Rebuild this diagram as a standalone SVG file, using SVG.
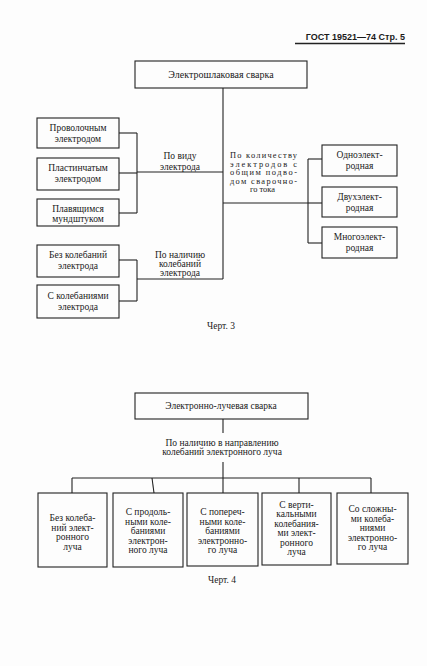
<svg xmlns="http://www.w3.org/2000/svg" width="427" height="666" viewBox="0 0 427 666">
<style>
.bg{fill:#fdfdfd}
.box{fill:none;stroke:#222;stroke-width:1.1}
.ln{fill:none;stroke:#222;stroke-width:1.1}
.t{font-family:"Liberation Serif","Times New Roman",serif;font-size:9.5px;fill:#1a1a1a;text-anchor:middle}
.tl{font-family:"Liberation Serif","Times New Roman",serif;font-size:8.4px;fill:#1a1a1a}
.h{font-family:"Liberation Sans",Arial,sans-serif;font-size:9px;font-weight:bold;fill:#1a1a1a;text-anchor:end}
</style>
<rect class="bg" x="0" y="0" width="427" height="666"/>
<g id="header">
<text class="h" x="405" y="40">ГОСТ 19521—74 Стр. 5</text>
<line x1="295" y1="43.5" x2="405" y2="43.5" stroke="#222" stroke-width="1.3"/>
</g>
<g id="connectors">
<line class="ln" x1="223" y1="88" x2="223" y2="279"/>
<line class="ln" x1="137" y1="172" x2="223" y2="172"/>
<line class="ln" x1="137" y1="133" x2="137" y2="213"/>
<line class="ln" x1="119" y1="133" x2="137" y2="133"/>
<line class="ln" x1="119" y1="173" x2="137" y2="173"/>
<line class="ln" x1="119" y1="213" x2="137" y2="213"/>
<line class="ln" x1="223" y1="203" x2="308" y2="203"/>
<line class="ln" x1="308" y1="159" x2="308" y2="243"/>
<line class="ln" x1="308" y1="159" x2="322" y2="159"/>
<line class="ln" x1="308" y1="203" x2="322" y2="203"/>
<line class="ln" x1="308" y1="243" x2="322" y2="243"/>
<line class="ln" x1="137" y1="279" x2="223" y2="279"/>
<line class="ln" x1="137" y1="260" x2="137" y2="301"/>
<line class="ln" x1="119" y1="260" x2="137" y2="260"/>
<line class="ln" x1="119" y1="301" x2="137" y2="301"/>
<line class="ln" x1="223" y1="419" x2="223" y2="433"/>
<line class="ln" x1="223" y1="462" x2="223" y2="478"/>
<line class="ln" x1="72" y1="478" x2="371" y2="478"/>
<line class="ln" x1="72" y1="478" x2="72" y2="493"/>
<line class="ln" x1="152" y1="478" x2="154" y2="493"/>
<line class="ln" x1="223" y1="478" x2="223" y2="493"/>
<line class="ln" x1="299" y1="478" x2="299" y2="493"/>
<line class="ln" x1="371" y1="478" x2="371" y2="493"/>
</g>
<g id="n_esv">
<rect class="box" x="135" y="61" width="172" height="27"/>
<text class="t" x="221" y="77.5" style="font-size:10px">Электрошлаковая сварка</text>
</g>
<g id="n_wire">
<rect class="box" x="37" y="118" width="82" height="30"/>
<text class="t" x="78" y="131">Проволочным</text>
<text class="t" x="78" y="142">электродом</text>
</g>
<g id="n_plate">
<rect class="box" x="37" y="158" width="82" height="32"/>
<text class="t" x="78" y="171">Пластинчатым</text>
<text class="t" x="78" y="182">электродом</text>
</g>
<g id="n_nozzle">
<rect class="box" x="37" y="199" width="82" height="27"/>
<text class="t" x="78" y="211.5">Плавящимся</text>
<text class="t" x="78" y="222">мундштуком</text>
</g>
<g id="l_kind">
<text class="t" x="180" y="159">По виду</text>
<text class="t" x="180" y="170">электрода</text>
</g>
<g id="l_count">
<text class="tl" x="230" y="158" textLength="67" lengthAdjust="spacing">По количеству</text>
<text class="tl" x="230" y="166.5" textLength="67" lengthAdjust="spacing">электродов с</text>
<text class="tl" x="230" y="175" textLength="67" lengthAdjust="spacing">общим подво-</text>
<text class="tl" x="230" y="183.5" textLength="67" lengthAdjust="spacing">дом сварочно-</text>
<text class="tl" x="262.5" y="192" style="text-anchor:middle">го тока</text>
</g>
<g id="n_one">
<rect class="box" x="322" y="145" width="75" height="31"/>
<text class="t" x="359.5" y="158">Одноэлект-</text>
<text class="t" x="359.5" y="168.5">родная</text>
</g>
<g id="n_two">
<rect class="box" x="322" y="187" width="75" height="30"/>
<text class="t" x="359.5" y="200">Двухэлект-</text>
<text class="t" x="359.5" y="210.5">родная</text>
</g>
<g id="n_multi">
<rect class="box" x="322" y="227" width="75" height="31"/>
<text class="t" x="359.5" y="240">Многоэлект-</text>
<text class="t" x="359.5" y="250.5">родная</text>
</g>
<g id="l_osc">
<text class="t" x="180" y="258">По наличию</text>
<text class="t" x="180" y="267">колебаний</text>
<text class="t" x="180" y="276">электрода</text>
</g>
<g id="n_noosc">
<rect class="box" x="37" y="245" width="82" height="32"/>
<text class="t" x="78" y="258">Без колебаний</text>
<text class="t" x="78" y="269">электрода</text>
</g>
<g id="n_osc">
<rect class="box" x="37" y="285" width="82" height="33"/>
<text class="t" x="78" y="299">С колебаниями</text>
<text class="t" x="78" y="309.5">электрода</text>
</g>
<g id="cap3">
<text class="t" x="221" y="329">Черт. 3</text>
</g>
<g id="n_ebw">
<rect class="box" x="135" y="393" width="173" height="26"/>
<text class="t" x="221" y="408.5">Электронно-лучевая сварка</text>
</g>
<g id="l_beam">
<text class="t" x="222" y="445.5">По наличию в направлению</text>
<text class="t" x="222" y="455">колебаний электронного луча</text>
</g>
<g id="n_b1">
<rect class="box" x="38" y="493" width="69" height="74"/>
<text class="t" x="72.5" y="521">Без колеба-</text>
<text class="t" x="72.5" y="530.5">ний элект-</text>
<text class="t" x="72.5" y="540">ронного</text>
<text class="t" x="72.5" y="549.5">луча</text>
</g>
<g id="n_b2">
<rect class="box" x="113" y="493" width="70" height="74"/>
<text class="t" x="148" y="515">С продоль-</text>
<text class="t" x="148" y="524.5">ными коле-</text>
<text class="t" x="148" y="534">баниями</text>
<text class="t" x="148" y="543.5">электрон-</text>
<text class="t" x="148" y="553">ного луча</text>
</g>
<g id="n_b3">
<rect class="box" x="187" y="493" width="71" height="73"/>
<text class="t" x="222.5" y="515">С попереч-</text>
<text class="t" x="222.5" y="524.5">ными коле-</text>
<text class="t" x="222.5" y="534">баниями</text>
<text class="t" x="222.5" y="543.5">электронно-</text>
<text class="t" x="222.5" y="553">го луча</text>
</g>
<g id="n_b4">
<rect class="box" x="262" y="493" width="69" height="72"/>
<text class="t" x="296.5" y="507.5">С верти-</text>
<text class="t" x="296.5" y="517">кальными</text>
<text class="t" x="296.5" y="526.5">колебания-</text>
<text class="t" x="296.5" y="536">ми элект-</text>
<text class="t" x="296.5" y="545.5">ронного</text>
<text class="t" x="296.5" y="555">луча</text>
</g>
<g id="n_b5">
<rect class="box" x="337" y="493" width="71" height="71"/>
<text class="t" x="372.5" y="512">Со сложны-</text>
<text class="t" x="372.5" y="521.5">ми колеба-</text>
<text class="t" x="372.5" y="531">ниями</text>
<text class="t" x="372.5" y="540.5">электронно-</text>
<text class="t" x="372.5" y="550">го луча</text>
</g>
<g id="cap4">
<text class="t" x="222" y="583">Черт. 4</text>
</g>
</svg>
